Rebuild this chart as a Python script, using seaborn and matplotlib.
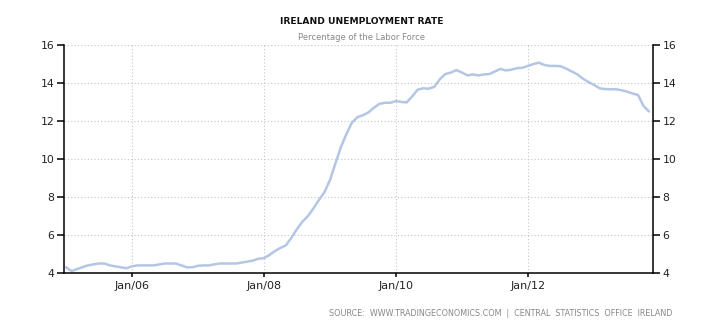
import matplotlib
matplotlib.use("Agg")
import matplotlib.pyplot as plt
import matplotlib.dates as mdates
import seaborn as sns
import pandas as pd
import numpy as np

# Monthly unemployment rate, Jan 2005 - Nov 2013
rate_2005 = [4.3, 4.1, 4.2, 4.3, 4.4, 4.45, 4.5, 4.5, 4.4, 4.35, 4.3, 4.25]
rate_2006 = [4.35, 4.4, 4.4, 4.4, 4.4, 4.45, 4.5, 4.5, 4.5, 4.4, 4.3, 4.3]
rate_2007 = [4.38, 4.4, 4.4, 4.45, 4.5, 4.5, 4.5, 4.5, 4.55, 4.6, 4.65, 4.75]
rate_2008 = [4.78, 4.95, 5.15, 5.32, 5.45, 5.85, 6.3, 6.7, 7.0, 7.4, 7.85, 8.25]
rate_2009 = [8.9, 9.8, 10.6, 11.3, 11.9, 12.2, 12.3, 12.45, 12.7, 12.9, 12.96, 12.96]
rate_2010 = [13.05, 13.0, 12.98, 13.3, 13.65, 13.72, 13.7, 13.8, 14.2, 14.47, 14.55, 14.68]
rate_2011 = [14.55, 14.4, 14.45, 14.4, 14.45, 14.47, 14.6, 14.74, 14.66, 14.7, 14.78, 14.8]
rate_2012 = [14.9, 15.0, 15.07, 14.95, 14.9, 14.9, 14.88, 14.75, 14.6, 14.45, 14.22, 14.05]
rate_2013 = [13.9, 13.72, 13.68, 13.67, 13.67, 13.62, 13.55, 13.45, 13.37, 12.8, 12.5]

values = (rate_2005 + rate_2006 + rate_2007 + rate_2008 + rate_2009
          + rate_2010 + rate_2011 + rate_2012 + rate_2013)
dates = pd.date_range("2005-01-01", periods=len(values), freq="MS")
df = pd.DataFrame({"date": dates, "rate": values})

y_ticks = [4, 6, 8, 10, 12, 14, 16]
x_tick_dates = pd.to_datetime(["2006-01-01", "2008-01-01", "2010-01-01", "2012-01-01"])

title = "IRELAND UNEMPLOYMENT RATE"
subtitle = "Percentage of the Labor Force"
source = "SOURCE:  WWW.TRADINGECONOMICS.COM  |  CENTRAL  STATISTICS  OFFICE  IRELAND"

sns.set_theme(style="white")
plt.rcParams["font.family"] = ["DejaVu Sans"]

fig = plt.figure(figsize=(7.21, 3.29), dpi=100)
ax = fig.add_axes([64 / 721, 56 / 329, (653 - 64) / 721, (273 - 45) / 329])

sns.lineplot(data=df, x="date", y="rate", ax=ax, color="#b3c6e4", linewidth=1.8)

ax.set_ylim(4, 16)
ax.set_xlim(pd.Timestamp("2004-12-21"), pd.Timestamp("2013-11-23"))
ax.set_yticks(y_ticks)
ax.set_xticks(x_tick_dates)
ax.xaxis.set_major_formatter(mdates.DateFormatter("%b/%y"))
ax.set_xlabel("")
ax.set_ylabel("")

ax.grid(True, linestyle=(0, (1, 2)), color="#c4c4c4", linewidth=0.8)
ax.set_axisbelow(True)

for side in ["left", "right", "bottom"]:
    ax.spines[side].set_visible(True)
    ax.spines[side].set_color("black")
    ax.spines[side].set_linewidth(1.1)
ax.spines["top"].set_visible(False)

ax.tick_params(axis="y", which="both", left=True, right=True, labelleft=True,
               labelright=True, direction="out", length=5, width=1.1,
               color="black", labelsize=7.8, labelcolor="#222222", pad=2)
ax.tick_params(axis="x", bottom=True, direction="out", length=3, width=1.1,
               color="black", labelsize=8, labelcolor="#222222", pad=3)

fig.text(362 / 721, 1 - 22 / 329, title, ha="center", va="center",
         fontsize=6.6, fontweight="bold", color="#111111")
fig.text(361 / 721, 1 - 37 / 329, subtitle, ha="center", va="center",
         fontsize=6, color="#888888")
fig.text(672 / 721, 1 - 314 / 329, source, ha="right", va="center",
         fontsize=5.75, color="#888888")

fig.savefig("out.png", dpi=100)
